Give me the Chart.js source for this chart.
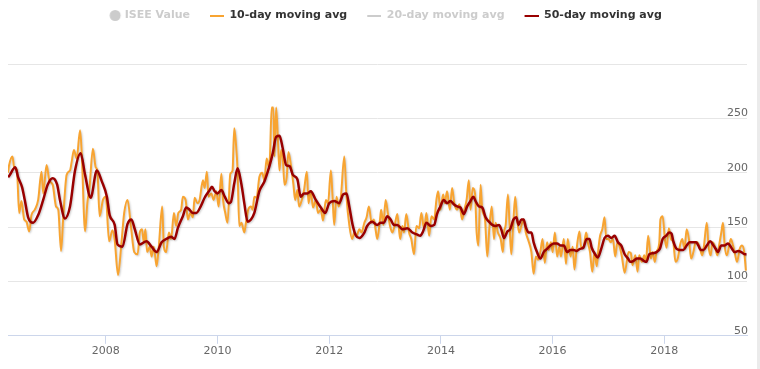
<!DOCTYPE html>
<html>
<head>
<meta charset="utf-8">
<script src="https://cdn.jsdelivr.net/npm/chart.js@4.4.0/dist/chart.umd.min.js"></script>
<style>
  html, body { margin: 0; padding: 0; background: #fff; }
  #wrap { width: 757px; height: 369px; border-right: 3px solid #ebebeb; }
</style>
</head>
<body>
<div id="wrap"><canvas id="chart" width="757" height="369"></canvas></div>
<script>
const seriesNames = ['ISEE Value', '10-day moving avg', '20-day moving avg', '50-day moving avg'];
const seriesShown = [false, true, false, true];

const xMin = 2006.25;
const xMax = 2019.48;
const xTicks = [2008, 2010, 2012, 2014, 2016, 2018];
const yTicks = [50, 100, 150, 200, 250, 300];

// decimal years
const years10 = [
  2006.25, 2006.27, 2006.33, 2006.36, 2006.41, 2006.45, 2006.49, 2006.54, 2006.58, 2006.63, 2006.67, 2006.73, 2006.79,
  2006.85, 2006.88, 2006.94, 2006.99, 2007.05, 2007.11, 2007.15, 2007.20, 2007.24, 2007.30, 2007.36, 2007.39,
  2007.43, 2007.48, 2007.54, 2007.57, 2007.63, 2007.67, 2007.71, 2007.77, 2007.82, 2007.85, 2007.89, 2007.95,
  2008.00, 2008.06, 2008.12, 2008.16, 2008.22, 2008.28, 2008.33, 2008.39, 2008.45, 2008.51, 2008.57, 2008.61,
  2008.65, 2008.68, 2008.71, 2008.74, 2008.79, 2008.82, 2008.86, 2008.91, 2008.95, 2009.01, 2009.04, 2009.08,
  2009.13, 2009.17, 2009.22, 2009.26, 2009.30, 2009.35, 2009.38, 2009.43, 2009.47, 2009.51, 2009.56, 2009.59,
  2009.64, 2009.68, 2009.74, 2009.77, 2009.81, 2009.84, 2009.89, 2009.93, 2009.98, 2010.02, 2010.07, 2010.10,
  2010.14, 2010.18, 2010.23, 2010.27, 2010.30, 2010.33, 2010.36, 2010.39, 2010.43, 2010.48, 2010.51, 2010.55,
  2010.60, 2010.63, 2010.66, 2010.70, 2010.75, 2010.80, 2010.84, 2010.88, 2010.92, 2010.94, 2010.97, 2011.00,
  2011.02, 2011.05, 2011.08, 2011.11, 2011.14, 2011.17, 2011.20, 2011.24, 2011.27, 2011.32, 2011.36, 2011.39,
  2011.43, 2011.46, 2011.51, 2011.55, 2011.60, 2011.63, 2011.67, 2011.71, 2011.76, 2011.80, 2011.85, 2011.89,
  2011.94, 2011.98, 2012.03, 2012.06, 2012.09, 2012.13, 2012.17, 2012.21, 2012.27, 2012.31, 2012.36, 2012.41,
  2012.45, 2012.49, 2012.54, 2012.58, 2012.63, 2012.67, 2012.71, 2012.76, 2012.80, 2012.83, 2012.86, 2012.91,
  2012.93, 2012.97, 2013.01, 2013.05, 2013.09, 2013.13, 2013.17, 2013.22, 2013.27, 2013.31, 2013.34, 2013.38,
  2013.43, 2013.47, 2013.52, 2013.56, 2013.61, 2013.65, 2013.70, 2013.74, 2013.79, 2013.83, 2013.88, 2013.92,
  2013.95, 2013.99, 2014.04, 2014.07, 2014.11, 2014.16, 2014.20, 2014.24, 2014.29, 2014.33, 2014.38, 2014.42,
  2014.46, 2014.50, 2014.53, 2014.57, 2014.61, 2014.64, 2014.67, 2014.71, 2014.74, 2014.79, 2014.83, 2014.87,
  2014.91, 2014.95, 2014.98, 2015.02, 2015.07, 2015.11, 2015.13, 2015.16, 2015.20, 2015.23, 2015.26, 2015.29,
  2015.33, 2015.36, 2015.40, 2015.44, 2015.48, 2015.52, 2015.57, 2015.62, 2015.66, 2015.70, 2015.74, 2015.78,
  2015.82, 2015.86, 2015.90, 2015.93, 2015.97, 2016.00, 2016.04, 2016.08, 2016.12, 2016.15, 2016.20, 2016.24,
  2016.27, 2016.32, 2016.36, 2016.39, 2016.43, 2016.48, 2016.51, 2016.55, 2016.60, 2016.63, 2016.67, 2016.71,
  2016.75, 2016.79, 2016.82, 2016.85, 2016.89, 2016.93, 2016.96, 2017.00, 2017.04, 2017.08, 2017.12, 2017.16,
  2017.20, 2017.24, 2017.29, 2017.36, 2017.40, 2017.43, 2017.48, 2017.52, 2017.55, 2017.60, 2017.64, 2017.67,
  2017.71, 2017.76, 2017.79, 2017.83, 2017.86, 2017.91, 2017.93, 2017.97, 2018.01, 2018.04, 2018.08, 2018.12,
  2018.16, 2018.20, 2018.24, 2018.28, 2018.32, 2018.36, 2018.40, 2018.44, 2018.48, 2018.52, 2018.56, 2018.59,
  2018.64, 2018.68, 2018.71, 2018.76, 2018.79, 2018.83, 2018.86, 2018.90, 2018.95, 2018.98, 2019.02, 2019.05,
  2019.08, 2019.12, 2019.16, 2019.19, 2019.23, 2019.27, 2019.30, 2019.35, 2019.39, 2019.43, 2019.46
];
const avg10 = [
  200, 207, 215, 205, 202, 163, 174, 157, 155, 146, 161, 166, 175,
  201, 181, 207, 193, 189, 169, 166, 128, 160, 198, 202, 210,
  221, 213, 239, 218, 146, 172, 187, 222, 205, 202, 160, 175,
  178, 137, 147, 138, 106, 135, 163, 175, 151, 127, 125, 145,
  148, 136, 148, 127, 132, 123, 132, 114, 132, 169, 132, 127,
  145, 139, 163, 151, 163, 166, 178, 175, 157, 163, 159, 177,
  172, 175, 193, 186, 201, 178, 181, 175, 183, 169, 199, 175,
  163, 154, 199, 202, 241, 227, 202, 151, 154, 145, 154, 166,
  169, 166, 178, 177, 196, 200, 193, 213, 205, 215, 260, 260,
  215, 260, 233, 202, 221, 213, 189, 196, 219, 205, 189, 175,
  184, 169, 175, 184, 201, 172, 183, 168, 175, 163, 166, 156,
  175, 172, 202, 178, 152, 178, 169, 178, 215, 178, 152, 139,
  145, 142, 148, 145, 154, 159, 169, 154, 157, 148, 139, 157,
  166, 152, 175, 163, 151, 145, 151, 162, 139, 151, 145, 162,
  145, 139, 125, 151, 149, 163, 148, 163, 142, 160, 157, 175,
  183, 166, 180, 172, 183, 166, 186, 172, 166, 171, 157, 166,
  175, 193, 166, 186, 181, 145, 133, 189, 166, 157, 123, 151,
  169, 139, 154, 145, 139, 127, 145, 152, 180, 151, 125, 148,
  178, 160, 145, 151, 157, 145, 137, 127, 107, 123, 120, 127,
  139, 117, 136, 129, 136, 127, 145, 123, 132, 123, 139, 116,
  139, 123, 132, 111, 130, 146, 132, 131, 145, 136, 127, 109,
  127, 114, 130, 142, 148, 159, 139, 139, 136, 139, 123, 136,
  132, 123, 108, 127, 126, 115, 124, 109, 124, 118, 124, 118,
  142, 121, 127, 118, 127, 136, 157, 160, 139, 131, 149, 139,
  136, 118, 121, 133, 139, 130, 148, 139, 121, 127, 136, 136,
  130, 124, 133, 154, 133, 124, 136, 133, 124, 133, 145, 154,
  133, 124, 133, 139, 133, 124, 118, 130, 133, 127, 110
];

const years50 = [
  2006.25, 2006.27, 2006.38, 2006.43, 2006.50, 2006.55, 2006.61, 2006.70, 2006.79, 2006.88, 2006.96, 2007.05,
  2007.13, 2007.18, 2007.27, 2007.36, 2007.45, 2007.55, 2007.63, 2007.73, 2007.84, 2007.93, 2008.02, 2008.07,
  2008.16, 2008.21, 2008.30, 2008.39, 2008.46, 2008.52, 2008.61, 2008.73, 2008.82, 2008.91, 2009.00, 2009.08,
  2009.17, 2009.23, 2009.29, 2009.38, 2009.44, 2009.50, 2009.56, 2009.62, 2009.70, 2009.77, 2009.86, 2009.90,
  2009.95, 2010.00, 2010.07, 2010.13, 2010.20, 2010.24, 2010.30, 2010.36, 2010.43, 2010.48, 2010.54, 2010.60,
  2010.66, 2010.75, 2010.84, 2010.93, 2010.99, 2011.05, 2011.11, 2011.17, 2011.23, 2011.29, 2011.35, 2011.43,
  2011.49, 2011.55, 2011.61, 2011.67, 2011.76, 2011.85, 2011.93, 2012.00, 2012.09, 2012.18, 2012.25, 2012.31,
  2012.36, 2012.42, 2012.48, 2012.54, 2012.63, 2012.68, 2012.77, 2012.86, 2012.92, 2012.98, 2013.04, 2013.10,
  2013.16, 2013.22, 2013.31, 2013.40, 2013.49, 2013.58, 2013.63, 2013.68, 2013.74, 2013.82, 2013.88, 2013.93,
  2013.99, 2014.05, 2014.11, 2014.17, 2014.23, 2014.29, 2014.35, 2014.41, 2014.47, 2014.53, 2014.58, 2014.62,
  2014.68, 2014.74, 2014.80, 2014.86, 2014.92, 2014.98, 2015.04, 2015.08, 2015.13, 2015.19, 2015.24, 2015.30,
  2015.35, 2015.39, 2015.44, 2015.48, 2015.52, 2015.57, 2015.62, 2015.66, 2015.72, 2015.78, 2015.84, 2015.90,
  2015.96, 2016.02, 2016.08, 2016.14, 2016.20, 2016.26, 2016.32, 2016.38, 2016.43, 2016.49, 2016.55, 2016.61,
  2016.66, 2016.70, 2016.76, 2016.81, 2016.87, 2016.93, 2016.99, 2017.05, 2017.11, 2017.17, 2017.23, 2017.29,
  2017.35, 2017.39, 2017.45, 2017.51, 2017.57, 2017.63, 2017.68, 2017.73, 2017.80, 2017.86, 2017.92, 2017.97,
  2018.03, 2018.09, 2018.13, 2018.16, 2018.22, 2018.28, 2018.34, 2018.40, 2018.45, 2018.51, 2018.57, 2018.61,
  2018.65, 2018.70, 2018.76, 2018.82, 2018.88, 2018.92, 2018.96, 2019.02, 2019.08, 2019.14, 2019.20, 2019.26,
  2019.32, 2019.38, 2019.44, 2019.47
];
const avg50 = [
  196, 197, 205, 196, 187, 175, 159, 154, 161, 175, 189, 195,
  189, 175, 158, 169, 202, 218, 198, 177, 202, 192, 178, 161,
  152, 134, 132, 153, 157, 148, 134, 137, 132, 127, 136, 139,
  141, 139, 149, 160, 168, 166, 163, 163, 169, 177, 184, 187,
  183, 181, 184, 178, 172, 173, 190, 204, 189, 172, 155, 157,
  163, 183, 192, 206, 218, 233, 234, 222, 207, 206, 198, 194,
  178, 181, 181, 183, 175, 168, 163, 172, 174, 172, 180, 181,
  169, 152, 142, 140, 145, 151, 155, 152, 154, 154, 160, 157,
  152, 152, 148, 149, 145, 143, 142, 146, 154, 151, 152, 162,
  169, 175, 172, 174, 171, 169, 168, 162, 169, 174, 178, 174,
  169, 168, 159, 155, 152, 151, 152, 148, 140, 146, 148, 157,
  159, 152, 157, 157, 150, 145, 145, 136, 127, 121, 127, 130,
  133, 135, 135, 133, 133, 127, 129, 129, 128, 130, 131, 139,
  139, 131, 125, 122, 130, 140, 142, 140, 142, 136, 133, 125,
  121, 118, 119, 121, 121, 119, 118, 125, 126, 127, 130, 139,
  142, 145, 144, 137, 130, 129, 129, 133, 136, 136, 136, 133,
  129, 129, 133, 137, 133, 130, 127, 133, 133, 135, 131, 127,
  128, 127, 125, 125
];

const isee = [];
const avg20 = [];

function toPoints(xs, ys) {
  return xs.map((x, i) => ({x: x, y: ys[i]}));
}

function legendIcon(kind, color) {
  const c = document.createElement('canvas');
  const g = c.getContext('2d');
  if (kind === 'circle') {
    c.width = 30;
    c.height = 13;
    g.fillStyle = color;
    g.beginPath();
    g.arc(23, 6.5, 5.5, 0, Math.PI * 2);
    g.fill();
  } else {
    c.width = 24;
    c.height = 3;
    g.fillStyle = color;
    g.fillRect(10, 1, 14, 2);
  }
  return c;
}

const legendIcons = [
  legendIcon('circle', '#cccccc'),
  legendIcon('line', '#f8a431'),
  legendIcon('line', '#cccccc'),
  legendIcon('line', '#990000')
];

const lineShadow = {
  id: 'lineShadow',
  beforeDatasetDraw(chart) {
    const ctx = chart.ctx;
    ctx.save();
    ctx.shadowColor = 'rgba(0,0,0,0.2)';
    ctx.shadowBlur = 2;
    ctx.shadowOffsetX = 1;
    ctx.shadowOffsetY = 1;
  },
  afterDatasetDraw(chart) {
    chart.ctx.restore();
  }
};

// push the plot down below the legend
const legendGap = {
  id: 'legendGap',
  beforeInit(chart) {
    const fit = chart.legend.fit;
    chart.legend.fit = function () {
      fit.call(this);
      this.height += 33;
    };
  }
};

const tickFont = {family: 'DejaVu Sans', size: 11};

new Chart(document.getElementById('chart'), {
  type: 'line',
  data: {
    datasets: [
      {label: seriesNames[0], data: isee, order: 3},
      {
        label: seriesNames[1],
        data: toPoints(years10, avg10),
        borderColor: '#f8a431',
        borderWidth: 2,
        pointRadius: 0,
        cubicInterpolationMode: 'monotone',
        order: 2
      },
      {label: seriesNames[2], data: avg20, order: 4},
      {
        label: seriesNames[3],
        data: toPoints(years50, avg50),
        borderColor: '#990000',
        borderWidth: 2.5,
        pointRadius: 0,
        cubicInterpolationMode: 'monotone',
        order: 1
      }
    ]
  },
  options: {
    responsive: false,
    animation: false,
    layout: {padding: {left: 8, right: 8, top: 0, bottom: 10}},
    scales: {
      x: {
        type: 'linear',
        min: xMin,
        max: xMax,
        afterBuildTicks: axis => {
          axis.ticks = xTicks.map(v => ({value: v}));
        },
        ticks: {
          font: tickFont,
          color: '#666666',
          padding: 1,
          maxRotation: 0,
          autoSkip: false,
          callback: v => String(v)
        },
        grid: {drawOnChartArea: false, drawTicks: true, tickLength: 8, color: '#ccd6eb'},
        border: {color: '#ccd6eb'}
      },
      y: {
        position: 'right',
        min: 50,
        max: 300,
        afterBuildTicks: axis => {
          axis.ticks = yTicks.map(v => ({value: v}));
        },
        ticks: {
          mirror: true,
          padding: 1,
          labelOffset: -5,
          font: tickFont,
          color: '#666666',
          callback: v => (v >= 300 ? '' : String(v))
        },
        grid: {
          drawTicks: false,
          color: ctx => (ctx.tick && ctx.tick.value === 50 ? 'rgba(0,0,0,0)' : '#e6e6e6')
        },
        border: {display: false}
      }
    },
    plugins: {
      tooltip: {enabled: false},
      legend: {
        position: 'top',
        align: 'center',
        labels: {
          usePointStyle: true,
          pointStyleWidth: 24,
          padding: 10,
          font: {family: 'DejaVu Sans', size: 11, weight: 'bold'},
          generateLabels: () => seriesNames.map((name, i) => ({
            text: name,
            fontColor: seriesShown[i] ? '#333333' : '#cccccc',
            pointStyle: legendIcons[i],
            hidden: false,
            datasetIndex: i,
            lineWidth: 0,
            strokeStyle: 'rgba(0,0,0,0)',
            fillStyle: 'rgba(0,0,0,0)'
          }))
        }
      }
    }
  },
  plugins: [lineShadow, legendGap]
});
</script>
</body>
</html>
